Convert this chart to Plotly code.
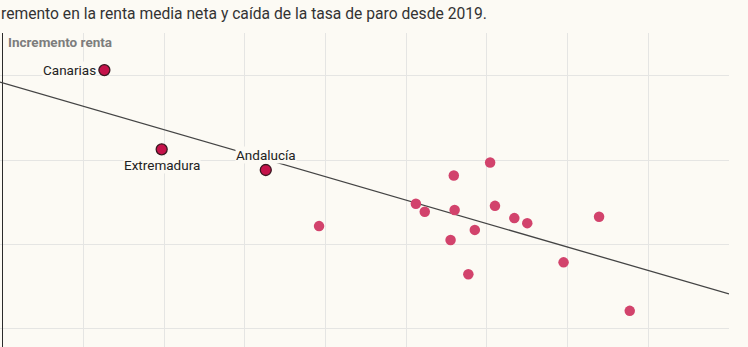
import plotly.graph_objects as go

# Data (x: caída de la tasa de paro, y: incremento renta)
labeled_names = ["Canarias", "Extremadura", "Andalucía"]
labeled_x = [1.26, 1.97, 3.26]
labeled_y = [16.14, 14.26, 13.77]

other_x = [3.92, 5.12, 5.23, 5.59, 5.60, 5.55, 5.85, 5.77, 6.04, 6.10, 6.34, 6.50, 7.39, 6.95, 7.77]
other_y = [12.44, 12.97, 12.78, 13.64, 12.82, 12.11, 12.35, 11.30, 13.95, 12.92, 12.63, 12.51, 12.66, 11.58, 10.43]

trend_x = [-0.0335, 9.0]
trend_y = [15.857, 10.83]

# title as visible in the (cropped) reference
title_text = "remento en la renta media neta y caída de la tasa de paro desde 2019."
ytitle_text = "Incremento renta"

BG = "#fcfaf4"
GRID = "#e5e5e3"

fig = go.Figure()

fig.add_trace(go.Scatter(
    x=trend_x, y=trend_y, mode="lines",
    line=dict(color="#444444", width=1.3),
    hoverinfo="skip", showlegend=False,
))

fig.add_trace(go.Scatter(
    x=other_x, y=other_y, mode="markers",
    marker=dict(size=10.5, color="#d2436c", line=dict(width=0)),
    showlegend=False,
))

fig.add_trace(go.Scatter(
    x=labeled_x, y=labeled_y, mode="markers",
    marker=dict(size=11, color="#c5124a", line=dict(width=1.3, color="#3a1820")),
    showlegend=False,
))

label_pos = {
    "Canarias": dict(xanchor="right", yanchor="middle", xshift=-7, yshift=0),
    "Extremadura": dict(xanchor="center", yanchor="middle", xshift=0, yshift=-16),
    "Andalucía": dict(xanchor="center", yanchor="middle", xshift=0, yshift=15),
}
for n, x, y in zip(labeled_names, labeled_x, labeled_y):
    p = label_pos[n]
    fig.add_annotation(
        x=x, y=y, text=n, showarrow=False,
        font=dict(family="Roboto", size=13.5, color="#222222"),
        bgcolor=BG, borderpad=0,
        **p,
    )

# y-axis title inside plot top-left
fig.add_annotation(
    xref="paper", yref="paper", x=0.008, y=0.972,
    xanchor="left", yanchor="middle", showarrow=False,
    text="<b>" + ytitle_text + "</b>",
    font=dict(family="Roboto", size=13.5, color="#7d7d7d"),
)

# chart title
fig.add_annotation(
    xref="paper", yref="paper", x=0, y=1 + 20 / 314,
    xanchor="left", yanchor="middle", showarrow=False,
    text=title_text, xshift=-1,
    font=dict(family="Roboto", size=15.65, color="#333333"),
)

fig.update_layout(
    width=748, height=347,
    margin=dict(l=0, r=19, t=33, b=0),
    paper_bgcolor=BG, plot_bgcolor=BG,
    xaxis=dict(
        range=[-0.0335, 9.0], dtick=1, tick0=0,
        showgrid=True, gridcolor=GRID, gridwidth=1,
        zeroline=True, zerolinecolor="#2b2b2b", zerolinewidth=1.4,
        showticklabels=False, ticks="", showline=False,
    ),
    yaxis=dict(
        range=[9.573, 17.019], dtick=2, tick0=0,
        showgrid=True, gridcolor=GRID, gridwidth=1,
        zeroline=False,
        showticklabels=False, ticks="", showline=False,
    ),
)

fig.write_html("out.html")
